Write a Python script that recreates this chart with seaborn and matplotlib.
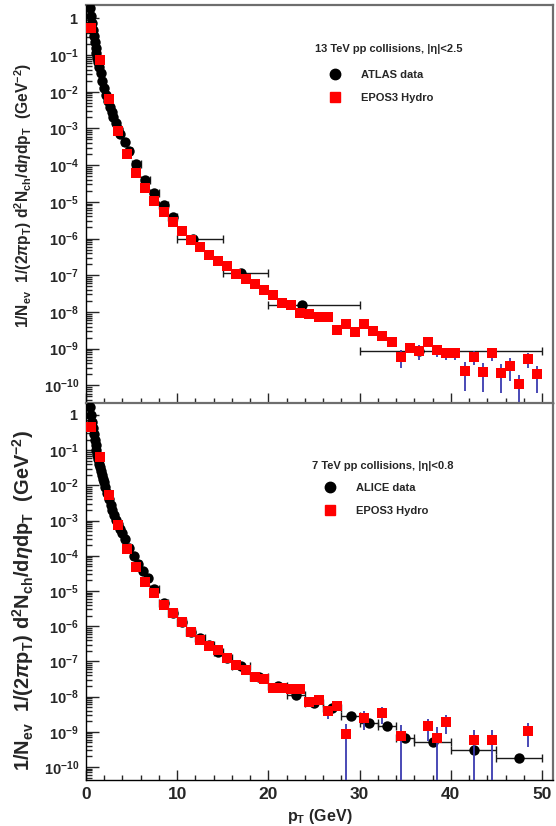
import matplotlib
matplotlib.use("Agg")
import matplotlib.pyplot as plt
import numpy as np
import pandas as pd
import seaborn as sns
from matplotlib.lines import Line2D
from matplotlib.ticker import FixedLocator, FuncFormatter, MultipleLocator, NullFormatter

# ---- top panel: 13 TeV, ATLAS data (values as log10 of the yield) ----
atlas_pt = [0.45, 0.55, 0.65, 0.75, 0.85, 0.95, 1.05, 1.15, 1.25, 1.35, 1.45, 1.6, 1.8, 2.0,
            2.2, 2.4, 2.6, 2.8, 3.0, 3.25, 3.5, 3.75, 4.25, 4.75, 5.5, 6.5, 7.5, 8.5, 9.5,
            11.76, 17.0, 23.66, 36.5]
atlas_log10 = [0.28, 0.06, -0.14, -0.32, -0.49, -0.65, -0.80, -0.94, -1.07, -1.20, -1.32, -1.49,
               -1.70, -1.90, -2.08, -2.25, -2.41, -2.56, -2.70, -2.86, -3.01, -3.15, -3.38, -3.61,
               -3.97, -4.40, -4.76, -5.08, -5.40, -6.00, -6.93, -7.81, -9.06]
atlas_bin_lo = [0.4, 0.5, 0.6, 0.7, 0.8, 0.9, 1.0, 1.1, 1.2, 1.3, 1.4, 1.5, 1.7, 1.9, 2.1, 2.3,
                2.5, 2.7, 2.9, 3.125, 3.375, 3.625, 4.0, 4.5, 5, 6, 7, 8, 9, 10, 15, 20, 30]
atlas_bin_hi = [0.5, 0.6, 0.7, 0.8, 0.9, 1.0, 1.1, 1.2, 1.3, 1.4, 1.5, 1.7, 1.9, 2.1, 2.3, 2.5,
                2.7, 2.9, 3.1, 3.375, 3.625, 3.875, 4.5, 5, 6, 7, 8, 9, 10, 15, 20, 30, 50]

# EPOS3 hydro at 13 TeV
epos13_pt = [0.5, 1.5, 2.5, 3.5, 4.5, 5.5, 6.5, 7.5, 8.5, 9.5, 10.5, 11.5, 12.5, 13.5, 14.5,
             15.5, 16.5, 17.5, 18.5, 19.5, 20.5, 21.5, 22.5, 23.5, 24.5, 25.5, 26.5, 27.5, 28.5,
             29.5, 30.5, 31.5, 32.5, 33.5, 34.5, 35.5, 36.5, 37.5, 38.5, 39.5, 40.5, 41.5, 42.5,
             43.5, 44.5, 45.5, 46.5, 47.5, 48.5, 49.5]
epos13_log10 = [-0.26, -1.14, -2.21, -3.06, -3.70, -4.22, -4.63, -4.98, -5.27, -5.54, -5.79,
                -6.03, -6.22, -6.45, -6.60, -6.74, -6.96, -7.10, -7.23, -7.40, -7.54, -7.75,
                -7.81, -8.02, -8.06, -8.15, -8.13, -8.49, -8.33, -8.54, -8.33, -8.51, -8.65,
                -8.82, -9.22, -8.97, -9.06, -8.81, -9.04, -9.11, -9.11, -9.60, -9.22, -9.63,
                -9.13, -9.66, -9.47, -9.97, -9.28, -9.69]
epos13_relerr = [0.04, 0.04, 0.04, 0.04, 0.04, 0.04, 0.04, 0.04, 0.04, 0.04, 0.04, 0.04, 0.04,
                 0.04, 0.04, 0.04, 0.04, 0.04, 0.04, 0.04, 0.15, 0.15, 0.15, 0.15, 0.15, 0.15,
                 0.15, 0.15, 0.15, 0.15, 0.15, 0.15, 0.15, 0.15, 0.52, 0.30, 0.45, 0.25, 0.35,
                 0.37, 0.38, 0.72, 0.42, 0.71, 0.36, 0.72, 0.60, 0.80, 0.45, 0.70]

# ---- bottom panel: 7 TeV, ALICE data ----
alice_pt = [0.45, 0.55, 0.65, 0.75, 0.85, 0.95, 1.05, 1.15, 1.25, 1.35, 1.45, 1.55, 1.65, 1.75,
            1.85, 1.95, 2.1, 2.3, 2.5, 2.7, 2.9, 3.1, 3.3, 3.5, 3.7, 3.9, 4.25, 4.75, 5.25, 5.75,
            6.25, 6.75, 7.5, 8.5, 9.5, 10.5, 11.5, 12.5, 13.5, 14.5, 15.5, 17, 19, 21, 23, 25,
            27, 29, 31, 33, 35, 38, 42.5, 47.5]
alice_log10 = [0.22, 0.00, -0.20, -0.38, -0.55, -0.71, -0.86, -1.00, -1.13, -1.26, -1.38, -1.49,
               -1.60, -1.71, -1.81, -1.91, -2.05, -2.23, -2.40, -2.56, -2.71, -2.85, -2.98, -3.11,
               -3.23, -3.34, -3.52, -3.77, -4.00, -4.22, -4.43, -4.62, -4.93, -5.33, -5.63, -5.87,
               -6.16, -6.34, -6.53, -6.72, -6.91, -7.13, -7.45, -7.70, -7.95, -8.17, -8.33, -8.55,
               -8.76, -8.85, -9.17, -9.30, -9.52, -9.75]
alice_halfwidth = [0.05, 0.05, 0.05, 0.05, 0.05, 0.05, 0.05, 0.05, 0.05, 0.05, 0.05, 0.05, 0.05,
                   0.05, 0.05, 0.05, 0.1, 0.1, 0.1, 0.1, 0.1, 0.1, 0.1, 0.1, 0.1, 0.1, 0.25, 0.25,
                   0.25, 0.25, 0.25, 0.25, 0.5, 0.5, 0.5, 0.5, 0.5, 0.5, 0.5, 0.5, 0.5, 1, 1, 1, 1,
                   1, 1, 1, 1, 1, 1, 2, 2.5, 2.5]

# EPOS3 hydro at 7 TeV
epos7_pt = [0.5, 1.5, 2.5, 3.5, 4.5, 5.5, 6.5, 7.5, 8.5, 9.5, 10.5, 11.5, 12.5, 13.5, 14.5, 15.5,
            16.5, 17.5, 18.5, 19.5, 20.5, 21.5, 22.5, 23.5, 24.5, 25.5, 26.5, 27.5, 28.5, 30.5,
            32.5, 34.5, 37.5, 38.5, 39.5, 42.5, 44.5, 48.5]
epos7_log10 = [-0.33, -1.18, -2.27, -3.14, -3.81, -4.31, -4.74, -5.05, -5.40, -5.63, -5.87, -6.16,
               -6.39, -6.56, -6.68, -6.91, -7.10, -7.24, -7.45, -7.50, -7.76, -7.76, -7.79, -7.79,
               -8.14, -8.10, -8.41, -8.26, -9.06, -8.60, -8.48, -9.11, -8.85, -9.17, -8.71, -9.23,
               -9.23, -8.97]
epos7_relerr = [0.04, 0.04, 0.04, 0.04, 0.04, 0.04, 0.04, 0.04, 0.04, 0.04, 0.04, 0.04, 0.04,
                0.04, 0.04, 0.04, 0.04, 0.04, 0.04, 0.04, 0.05, 0.05, 0.05, 0.05, 0.20, 0.15,
                0.40, 0.20, 0.97, 0.54, 0.50, 0.97, 0.60, 0.97, 0.55, 0.97, 0.97, 0.65]

# decades that carry a label on the y axis
y_decades = [-10, -9, -8, -7, -6, -5, -4, -3, -2, -1, 0]

sns.set_style("ticks")
plt.rcParams["font.family"] = ["Liberation Sans", "DejaVu Sans"]
plt.rcParams["font.weight"] = "bold"
plt.rcParams["mathtext.fontset"] = "custom"
plt.rcParams["mathtext.rm"] = "Liberation Sans"
plt.rcParams["mathtext.bf"] = "Liberation Sans:bold"
plt.rcParams["mathtext.it"] = "Liberation Sans:italic"
plt.rcParams["mathtext.sf"] = "Liberation Sans"

W, H = 556, 826
fig = plt.figure(figsize=(W / 100, H / 100), dpi=100)
ax1 = fig.add_axes([86 / W, 1 - 403 / H, 467 / W, 398.3 / H])
ax2 = fig.add_axes([86 / W, 1 - 780 / H, 467 / W, 377 / H])

major_y = [10.0 ** e for e in y_decades]
minor_y = [m * 10.0 ** e for e in range(-11, 1) for m in range(2, 10)]


def log_label(v, pos):
    e = int(round(np.log10(v)))
    if e == 0:
        return r"$\mathbf{1}$"
    return r"$\mathbf{10^{%d}}$" % e


ylab = (r"$\mathbf{1/N_{ev}\ \ 1/(2}\pi\mathbf{p_{T})\ d^{2}N_{ch}/d}\eta"
        r"\mathbf{dp_{T}\ \ (GeV^{-2})}$")


def draw_panel(ax, data_pt, data_val, data_xlo, data_xhi, mod_pt, mod_val, mod_rel, ylims):
    mod_val = np.asarray(mod_val)
    mod_err = mod_val * np.asarray(mod_rel)
    data = pd.DataFrame({"pt": data_pt, "y": data_val})
    model = pd.DataFrame({"pt": mod_pt, "y": mod_val})

    ax.errorbar(data_pt, data_val, xerr=[data_xlo, data_xhi], fmt="none", ecolor="#1a1a1a",
                elinewidth=1.0, capsize=2.6, capthick=1.0, zorder=2)
    sns.scatterplot(data=data, x="pt", y="y", marker="o", s=56, color="black", linewidth=0,
                    ax=ax, zorder=3)
    ax.errorbar(mod_pt, mod_val, yerr=mod_err, fmt="none", ecolor="#3a3ab0",
                elinewidth=1.3, capsize=0, zorder=4)
    sns.scatterplot(data=model, x="pt", y="y", marker="s", s=46, color="#ff0000", linewidth=0,
                    ax=ax, zorder=5)

    ax.set_yscale("log")
    ax.set_xlim(0, 51.2)
    ax.set_ylim(*ylims)
    ax.yaxis.set_major_locator(FixedLocator(major_y))
    ax.yaxis.set_minor_locator(FixedLocator([v for v in minor_y if ylims[0] < v < ylims[1]]))
    ax.yaxis.set_major_formatter(FuncFormatter(log_label))
    ax.yaxis.set_minor_formatter(NullFormatter())
    ax.xaxis.set_major_locator(MultipleLocator(10))
    ax.xaxis.set_minor_locator(MultipleLocator(2))
    ax.tick_params(axis="y", which="major", direction="in", length=9, width=1, labelsize=10.5,
                   pad=5)
    ax.tick_params(axis="y", which="minor", direction="in", length=4.5, width=1)
    ax.tick_params(axis="x", which="major", direction="in", length=7, width=1, labelsize=12.5,
                   pad=5)
    ax.tick_params(axis="x", which="minor", direction="in", length=3.5, width=1)
    for side in ["left", "bottom"]:
        ax.spines[side].set_linewidth(1.0)
        ax.spines[side].set_color("black")
    for side in ["top", "right"]:
        ax.spines[side].set_linewidth(1.6)
        ax.spines[side].set_color("#6e6e6e")
    ax.set_xlabel("")

    handles = [
        Line2D([], [], marker="o", color="black", linestyle="none", markersize=7.5),
        Line2D([], [], marker="s", color="#ff0000", linestyle="none", markersize=6.8),
    ]
    return handles


def add_key(ax, handles, labels, title, title_xy, key_xy):
    ax.text(title_xy[0], title_xy[1], title, transform=ax.transAxes, fontsize=8,
            fontweight="bold", ha="left", va="center")
    ax.legend(handles, labels, loc="center left", bbox_to_anchor=key_xy, frameon=False,
              fontsize=8, handlelength=3.6, handletextpad=0.55, labelspacing=1.15,
              borderpad=0, borderaxespad=0)


atlas_val = 10.0 ** np.asarray(atlas_log10)
atlas_xlo = np.asarray(atlas_pt) - np.asarray(atlas_bin_lo)
atlas_xhi = np.asarray(atlas_bin_hi) - np.asarray(atlas_pt)
epos13_val = 10.0 ** np.asarray(epos13_log10)

h1 = draw_panel(ax1, atlas_pt, atlas_val, atlas_xlo, atlas_xhi, epos13_pt, epos13_val,
                epos13_relerr, (10 ** -10.48, 10 ** 0.37))
ax1.tick_params(axis="x", labelbottom=False)
ax1.set_ylabel(ylab, fontsize=11.2)
ax1.yaxis.set_label_coords(-0.112, 0.52)
add_key(ax1, h1, ["ATLAS data", "EPOS3 Hydro"], "13 TeV pp collisions, |η|<2.5",
        (0.490, 0.889), (0.49, 0.795))

alice_val = 10.0 ** np.asarray(alice_log10)
epos7_val = 10.0 ** np.asarray(epos7_log10)
h2 = draw_panel(ax2, alice_pt, alice_val, alice_halfwidth, alice_halfwidth, epos7_pt, epos7_val,
                epos7_relerr, (10 ** -10.37, 10 ** 0.34))
ax2.set_ylabel(ylab, fontsize=14.4)
ax2.yaxis.set_label_coords(-0.108, 0.477)
ax2.set_xlabel(r"$\mathbf{p_{T}}$ (GeV)", fontsize=11.5, fontweight="bold", labelpad=4)
add_key(ax2, h2, ["ALICE data", "EPOS3 Hydro"], "7 TeV pp collisions, |η|<0.8",
        (0.484, 0.833), (0.48, 0.745))

fig.savefig("out.png", dpi=100)
